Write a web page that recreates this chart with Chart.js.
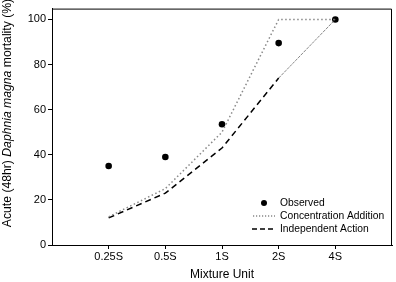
<!DOCTYPE html>
<html><head><meta charset="utf-8">
<script src="https://cdn.jsdelivr.net/npm/chart.js@4/dist/chart.umd.min.js"></script>
<style>html,body{margin:0;padding:0;background:#fff;}canvas{display:block;}</style>
</head><body>
<canvas id="c" width="396" height="282"></canvas>
<script>
const categories = ["0.25S", "0.5S", "1S", "2S", "4S"];
const observed = [35, 39, 53.5, 89.5, 100];
const concentrationAddition = [12.5, 25, 50, 100, 100];
const independentAction = [12, 23, 43, 74, 100];
const yTicks = [0, 20, 40, 60, 80, 100];

const FONT = "'Liberation Sans', Arial, Helvetica, sans-serif";
const toXY = arr => arr.map((v, i) => ({x: i + 1, y: v}));

const framePlugin = {
  id: 'frame',
  afterDraw(chart) {
    const ctx = chart.ctx, a = chart.chartArea;
    ctx.save();
    ctx.strokeStyle = '#000'; ctx.lineWidth = 1;
    ctx.beginPath();
    ctx.moveTo(a.left, a.top + 0.5); ctx.lineTo(a.right - 0.5, a.top + 0.5); ctx.lineTo(a.right - 0.5, a.bottom);
    ctx.stroke();
    // x title
    ctx.fillStyle = '#000';
    ctx.font = '12px ' + FONT;
    ctx.textAlign = 'center'; ctx.textBaseline = 'middle';
    ctx.fillText('Mixture Unit', (a.left + a.right) / 2, 275);
    // y title with italic part
    const parts = [['Acute (48hr) ', 'normal'], ['Daphnia magna', 'italic'], [' mortality (%)', 'normal']];
    const fs = 12.2;
    let total = 0;
    parts.forEach(p => { ctx.font = p[1] + ' ' + fs + 'px ' + FONT; total += ctx.measureText(p[0]).width; });
    ctx.translate(8, 113);
    ctx.rotate(-Math.PI / 2);
    ctx.textAlign = 'left';
    let x = -total / 2;
    parts.forEach(p => { ctx.font = p[1] + ' ' + fs + 'px ' + FONT; ctx.fillText(p[0], x, 0); x += ctx.measureText(p[0]).width; });
    ctx.restore();
    // legend
    ctx.save();
    const lx = 264, tx = 280, ys = [203, 216, 229];
    ctx.fillStyle = '#000';
    ctx.beginPath(); ctx.arc(lx, ys[0], 3, 0, Math.PI * 2); ctx.fill();
    ctx.strokeStyle = '#888'; ctx.lineWidth = 1.4; ctx.setLineDash([1.2, 1.8]);
    ctx.beginPath(); ctx.moveTo(253, ys[1]); ctx.lineTo(275, ys[1]); ctx.stroke();
    ctx.strokeStyle = '#000'; ctx.lineWidth = 1.3; ctx.setLineDash([5, 3]);
    ctx.beginPath(); ctx.moveTo(252, ys[2]); ctx.lineTo(276, ys[2]); ctx.stroke();
    ctx.setLineDash([]);
    ctx.font = '10.3px ' + FONT; ctx.textAlign = 'left'; ctx.textBaseline = 'middle';
    ctx.fillText('Observed', tx, ys[0]);
    ctx.fillText('Concentration Addition', tx, ys[1]);
    ctx.fillText('Independent Action', tx, ys[2]);
    ctx.restore();
  }
};

new Chart(document.getElementById('c'), {
  type: 'line',
  data: {
    datasets: [
      {label: 'Concentration Addition', data: toXY(concentrationAddition), borderColor: '#888', borderWidth: 1.5,
       borderDash: [1.5, 2.5], pointRadius: 0, fill: false, tension: 0},
      {label: 'Independent Action', data: toXY(independentAction), borderColor: '#000', borderWidth: 1.5,
       borderDash: [6, 4], pointRadius: 0, fill: false, tension: 0,
       segment: {
         borderDash: c => c.p0DataIndex === 3 ? [3, 1] : [6, 4],
         borderWidth: c => c.p0DataIndex === 3 ? 0.7 : 1.5,
         borderColor: c => c.p0DataIndex === 3 ? '#555' : '#000'
       }},
      {label: 'Observed', data: toXY(observed), showLine: false, pointRadius: 3.3, pointBackgroundColor: '#000',
       pointBorderColor: '#000', pointBorderWidth: 0}
    ]
  },
  options: {
    responsive: false, animation: false, maintainAspectRatio: false,
    layout: {padding: {top: 5, right: 2, left: 0, bottom: 0}},
    plugins: {legend: {display: false}, tooltip: {enabled: false}},
    scales: {
      x: {
        type: 'linear', min: 0, max: 6,
        afterBuildTicks: s => { s.ticks = categories.map((c, i) => ({value: i + 1})); },
        afterFit: s => { s.height = 37; },
        ticks: {callback: (v) => categories[v - 1] ?? '', color: '#000', font: {size: 11, family: FONT}, padding: 1, maxRotation: 0, autoSkip: false},
        grid: {display: true, drawOnChartArea: false, drawTicks: true, tickLength: 4, color: '#000'},
        border: {display: true, color: '#000', width: 1}
      },
      y: {
        min: 0, max: 104.8,
        afterBuildTicks: s => { s.ticks = yTicks.map(v => ({value: v})); },
        afterFit: s => { s.width = 52; },
        ticks: {color: '#000', font: {size: 11, family: FONT}, padding: 2},
        grid: {display: true, drawOnChartArea: false, drawTicks: true, tickLength: 4, color: '#000'},
        border: {display: true, color: '#000', width: 1}
      }
    }
  },
  plugins: [framePlugin]
});
</script>
</body></html>
